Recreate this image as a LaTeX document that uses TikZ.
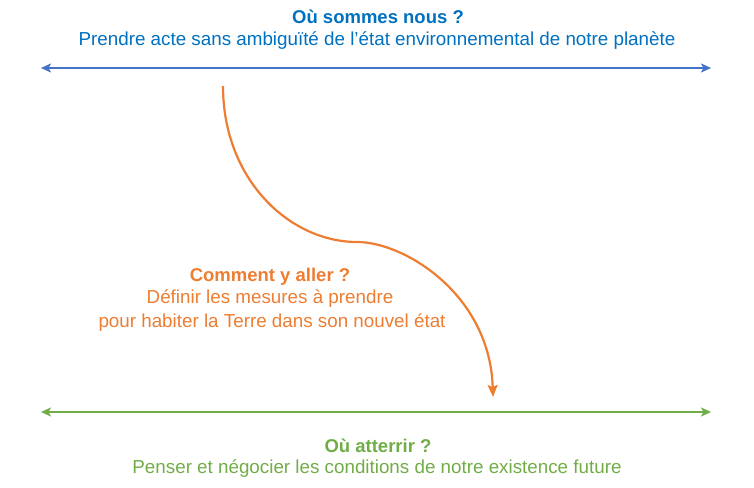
\documentclass[tikz,border=0pt]{standalone}
\usepackage{fontspec}
\setmainfont{Liberation Sans}
\usepackage{tikz}
\usetikzlibrary{arrows.meta,positioning}

\definecolor{textblue}{HTML}{0070C0}
\definecolor{lineblue}{HTML}{4472C4}
\definecolor{orange}{HTML}{ED7D31}
\definecolor{green}{HTML}{70AD47}

\begin{document}
\begin{tikzpicture}[x=1bp,y=-1bp,line width=2.2bp,>={Stealth[length=10bp,width=9bp,inset=2.5bp]}]
    \tikzstyle{label}=[inner sep=0pt,anchor=base,font=\fontsize{18.8bp}{22bp}\selectfont];
    \tikzstyle{title}=[label,font=\fontsize{18.5bp}{22bp}\selectfont\bfseries];
    \useasboundingbox (0,0) rectangle (754,488);

    % Where we are (top)
    \node[title,text=textblue] (where-t) at (378,24) {Où sommes nous ?};
    \node[label,text=textblue] (where-b) at (377,46) {Prendre acte sans ambiguïté de l’état environnemental de notre planète};
    \coordinate (top-l) at (41,68);
    \coordinate (top-r) at (711,68);
    \draw[<->,lineblue] (top-l) -- (top-r);

    % How to get there (middle)
    \coordinate (path-s) at (223,86);
    \coordinate (path-m) at (357,242);
    \coordinate (path-e) at (493,397);
    \draw[->,orange,>={Stealth[length=12bp,width=10bp,inset=2bp]}] (path-s)
      .. controls (223,180) and (290,242) .. (path-m)
      .. controls (405,242) and (490,295) .. (path-e);
    \node[title,text=orange] (how-t) at (270,282) {Comment y aller ?};
    \node[label,text=orange] (how-b1) at (270,303) {Définir les mesures à prendre};
    \node[label,text=orange] (how-b2) at (272,327) {pour habiter la Terre dans son nouvel état};

    % Where to land (bottom)
    \coordinate (bot-l) at (41,412);
    \coordinate (bot-r) at (711,412);
    \draw[<->,green] (bot-l) -- (bot-r);
    \node[title,text=green] (land-t) at (378,452) {Où atterrir ?};
    \node[label,text=green] (land-b) at (377,473) {Penser et négocier les conditions de notre existence future};
\end{tikzpicture}
\end{document}
